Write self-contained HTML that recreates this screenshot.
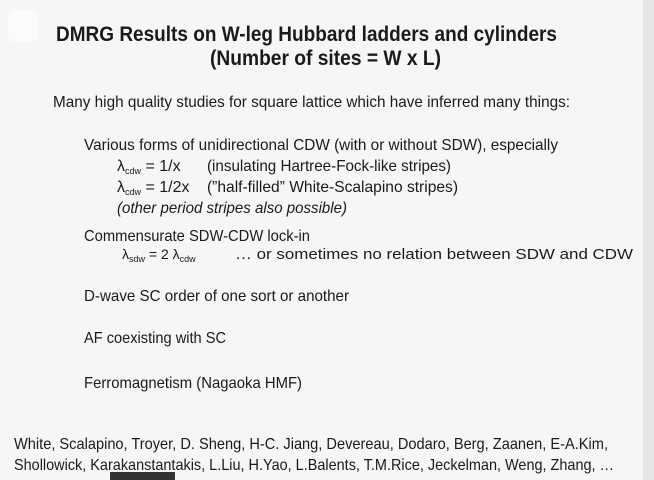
<!DOCTYPE html>
<html><head><meta charset="utf-8"><style>
html,body{margin:0;padding:0;background:#f6f6f6;}
svg{display:block;}
text{font-family:"Liberation Sans",sans-serif;fill:#1a1a1a;}
</style></head><body>
<svg width="654" height="480" viewBox="0 0 654 480">
<rect x="0" y="0" width="654" height="480" fill="#f6f6f6"/>
<rect x="643" y="0" width="11" height="480" fill="#e6e6e6"/>
<rect x="8" y="10" width="30" height="32" rx="6" fill="#ffffff" opacity="0.5"/>
<text x="56" y="41" font-size="21" font-weight="bold" textLength="501" lengthAdjust="spacingAndGlyphs">DMRG Results on W-leg Hubbard ladders and cylinders</text>
<text x="210" y="65" font-size="21" font-weight="bold" textLength="231" lengthAdjust="spacingAndGlyphs">(Number of sites = W x L)</text>
<text x="53" y="107" font-size="16" textLength="517" lengthAdjust="spacingAndGlyphs">Many high quality studies for square lattice which have inferred many things:</text>
<text x="84" y="150" font-size="16" textLength="474" lengthAdjust="spacingAndGlyphs">Various forms of unidirectional CDW (with or without SDW), especially</text>
<text x="117" y="171" font-size="16">λ<tspan font-size="9" dy="3">cdw</tspan><tspan dy="-3"> = 1/x</tspan></text>
<text x="207" y="171" font-size="16" textLength="244" lengthAdjust="spacingAndGlyphs">(insulating Hartree-Fock-like stripes)</text>
<text x="117" y="192" font-size="16">λ<tspan font-size="9" dy="3">cdw</tspan><tspan dy="-3"> = 1/2x</tspan></text>
<text x="207" y="192" font-size="16" textLength="251" lengthAdjust="spacingAndGlyphs">(”half-filled” White-Scalapino stripes)</text>
<text x="117" y="213" font-size="16" font-style="italic" textLength="230" lengthAdjust="spacingAndGlyphs">(other period stripes also possible)</text>
<text x="84" y="241" font-size="16" textLength="226" lengthAdjust="spacingAndGlyphs">Commensurate SDW-CDW lock-in</text>
<text x="122" y="259" font-size="14">λ<tspan font-size="9" dy="3">sdw</tspan><tspan dy="-3"> = 2 λ</tspan><tspan font-size="9" dy="3">cdw</tspan></text>
<text x="235" y="259" font-size="15" textLength="398" lengthAdjust="spacingAndGlyphs">…   or sometimes no relation between SDW and CDW</text>
<text x="84" y="301" font-size="16" textLength="265" lengthAdjust="spacingAndGlyphs">D-wave SC order of one sort or another</text>
<text x="84" y="343" font-size="16" textLength="142" lengthAdjust="spacingAndGlyphs">AF coexisting with SC</text>
<text x="84" y="388" font-size="16" textLength="218" lengthAdjust="spacingAndGlyphs">Ferromagnetism (Nagaoka HMF)</text>
<text x="14" y="449" font-size="16" textLength="594" lengthAdjust="spacingAndGlyphs">White, Scalapino, Troyer, D. Sheng, H-C. Jiang, Devereau, Dodaro, Berg, Zaanen, E-A.Kim,</text>
<text x="14" y="470" font-size="16" textLength="600" lengthAdjust="spacingAndGlyphs">Shollowick, Karakanstantakis, L.Liu, H.Yao, L.Balents, T.M.Rice, Jeckelman, Weng, Zhang, …</text>
<rect x="110" y="472" width="65" height="8" fill="#333333"/>
</svg>
</body></html>
